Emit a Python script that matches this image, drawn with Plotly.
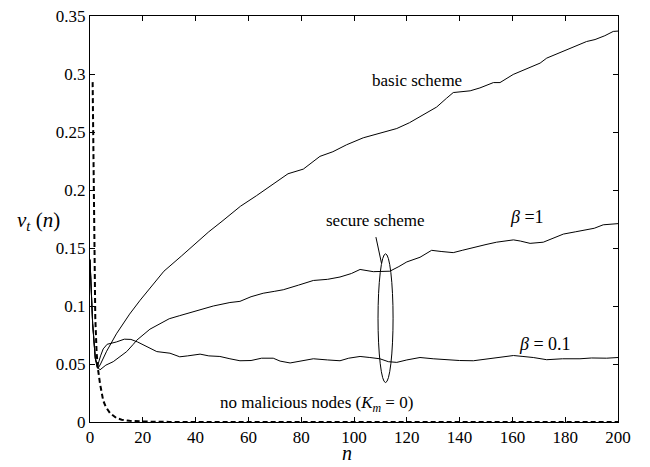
import plotly.graph_objects as go

# ---- data ----
basic_n = [0, 1, 2, 3, 4, 6.3, 10, 15, 19, 24, 28, 34.6, 40, 45, 50, 57, 63, 68, 72, 75,
           80.8, 87.1, 92, 97.2, 103.5, 110, 116.2, 121, 125, 131.3, 135, 137.6, 144,
           147.7, 152.8, 155.3, 160.3, 164.1, 170.5, 173, 178.7, 183, 188.1, 191.3, 195,
           198.2, 200]
basic_v = [0.14, 0.085, 0.055, 0.046, 0.05, 0.061, 0.076, 0.093, 0.105, 0.119, 0.13, 0.143,
           0.154, 0.164, 0.173, 0.186, 0.195, 0.203, 0.209, 0.214, 0.218, 0.229, 0.233,
           0.239, 0.245, 0.249, 0.253, 0.258, 0.263, 0.2715, 0.279, 0.284, 0.2855, 0.288,
           0.2926, 0.2926, 0.2996, 0.303, 0.3094, 0.3137, 0.319, 0.3226, 0.328, 0.3297,
           0.333, 0.3367, 0.337]

beta1_n = [0, 1, 2, 3, 3.8, 6, 8.8, 11.9, 13.9, 16.4, 17.7, 22.7, 27.8, 30, 34, 40.4, 46.7,
           53, 56.8, 61, 65.6, 70, 73.2, 79, 84.6, 90, 94.7, 99, 102.3, 107.3, 110, 113.6,
           117, 120, 125, 129.4, 133, 137.6, 141, 145.2, 150, 154, 157, 160.4, 163, 166.7,
           171.7, 175, 179.3, 184, 188.1, 191, 194.4, 200]
beta1_v = [0.14, 0.085, 0.055, 0.047, 0.045, 0.049, 0.052, 0.057, 0.0607, 0.067, 0.0705,
           0.080, 0.086, 0.089, 0.0917, 0.0958, 0.100, 0.103, 0.104, 0.108, 0.111, 0.1127,
           0.114, 0.118, 0.122, 0.123, 0.125, 0.128, 0.1315, 0.1296, 0.130, 0.130, 0.134,
           0.138, 0.142, 0.148, 0.147, 0.146, 0.148, 0.1506, 0.153, 0.155, 0.156, 0.157,
           0.156, 0.154, 0.155, 0.158, 0.162, 0.164, 0.166, 0.167, 0.170, 0.171]

beta01_n = [0, 1, 2, 2.7, 4, 5, 6.5, 10, 13, 15.5, 18, 22.7, 25.3, 30.3, 34, 37, 41.7, 45,
            49.2, 53, 56.8, 61, 65, 69.4, 72, 75.8, 80, 84.6, 90, 94.7, 98, 102.3, 106,
            109.8, 113, 116.2, 120, 125, 130, 135, 140, 145.2, 151.5, 156, 160.4, 164,
            167.9, 173, 179, 185.6, 190, 195.7, 200]
beta01_v = [0.14, 0.085, 0.055, 0.047, 0.057, 0.063, 0.067, 0.069, 0.0714, 0.0712, 0.069,
            0.0635, 0.0607, 0.0593, 0.0562, 0.057, 0.0585, 0.057, 0.0565, 0.0545, 0.0528,
            0.053, 0.055, 0.055, 0.0525, 0.0509, 0.0525, 0.0545, 0.0535, 0.0528, 0.055,
            0.0565, 0.0556, 0.0545, 0.052, 0.0514, 0.0535, 0.0556, 0.0545, 0.0537, 0.053,
            0.0528, 0.0545, 0.056, 0.0573, 0.0565, 0.0556, 0.0537, 0.0545, 0.0545, 0.0552,
            0.055, 0.0556]

nomal_n = [1, 1.5, 2, 2.5, 3, 3.8, 5, 6, 7.6, 10, 12, 15, 20, 30, 50, 200]
nomal_v = [0.293, 0.17, 0.09, 0.06, 0.046, 0.033, 0.0185, 0.013, 0.0076, 0.0034, 0.002,
           0.001, 0.0004, 0.0001, 0, 0]

x_ticks = [0, 20, 40, 60, 80, 100, 120, 140, 160, 180, 200]
y_ticks = [0, 0.05, 0.1, 0.15, 0.2, 0.25, 0.3, 0.35]
y_tick_labels = ["0", "0.05", "0.1", "0.15", "0.2", "0.25", "0.3", "0.35"]

FONT = "Times New Roman"

fig = go.Figure()
for xs, ys in [(basic_n, basic_v), (beta1_n, beta1_v), (beta01_n, beta01_v)]:
    fig.add_trace(go.Scatter(x=xs, y=ys, mode="lines",
                             line=dict(color="black", width=1), showlegend=False))
fig.add_trace(go.Scatter(x=nomal_n, y=nomal_v, mode="lines",
                         line=dict(color="black", width=2, dash="5px,3px"),
                         showlegend=False))

axis_common = dict(showline=True, linecolor="black", linewidth=1, mirror="ticks",
                   ticks="inside", ticklen=5, tickcolor="black", showgrid=False,
                   zeroline=False, tickfont=dict(family=FONT, size=17, color="black"))

fig.update_layout(
    width=650, height=467,
    margin=dict(l=90, r=32, t=7, b=45),
    paper_bgcolor="white", plot_bgcolor="white",
    xaxis=dict(range=[0, 200.0001], tickvals=x_ticks, **axis_common),
    yaxis=dict(range=[0, 0.3500001], tickvals=y_ticks, ticktext=y_tick_labels,
               ticklabeloverflow="allow", **axis_common),
    font=dict(family=FONT, color="black"),
)

ann_font = dict(family=FONT, size=17, color="black")
fig.add_annotation(x=123.7, y=0.294, text="basic scheme", showarrow=False, font=ann_font)
fig.add_annotation(x=108, y=0.174, text="secure scheme", showarrow=False, font=ann_font)
fig.add_annotation(x=165.4, y=0.177, text="<i>β</i> =1", showarrow=False,
                   font=dict(family=FONT, size=18, color="black"))
fig.add_annotation(x=172.3, y=0.0672, text="<i>β</i> = 0.1", showarrow=False,
                   font=dict(family=FONT, size=18, color="black"))
fig.add_annotation(x=85.9, y=0.0157,
                   text="no malicious nodes (<i>K</i><sub><i>m</i></sub> = 0)",
                   showarrow=False, font=ann_font)
fig.add_annotation(xref="paper", yref="paper", x=-0.142, xanchor="left", y=0.496,
                   text="<i>ν</i><sub><i>t</i></sub> (<i>n</i>)", showarrow=False,
                   font=dict(family=FONT, size=21, color="black"))
fig.add_annotation(xref="paper", yref="paper", x=0.487, y=-0.1084, yanchor="bottom",
                   text="<i>n</i>", showarrow=False,
                   font=dict(family=FONT, size=20, color="black"))

fig.add_shape(type="circle", xref="x", yref="y", x0=109.1, x1=114.8, y0=0.034, y1=0.145,
              line=dict(color="black", width=1))
fig.add_shape(type="line", xref="x", yref="y", x0=108.3, y0=0.1594, x1=110.4, y1=0.137,
              line=dict(color="black", width=1))

fig.write_html("out.html", config={"displayModeBar": False},
               post_script="document.body.style.margin='0';document.body.style.padding='0';")
